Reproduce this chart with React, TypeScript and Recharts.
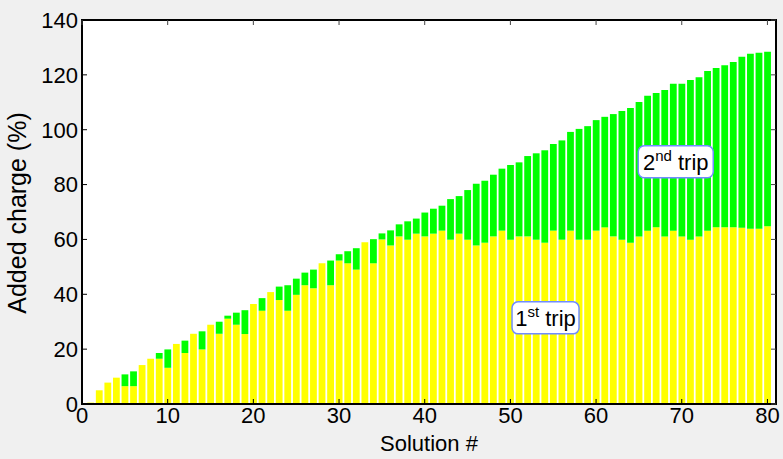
import { Bar, ComposedChart, ReferenceArea, ReferenceDot, XAxis, YAxis } from "recharts";

const solutions = Array.from({ length: 80 }, (_, i) => i + 1);

// added charge on the 1st trip (%)
const firstTrip = [
  0.5, 5.0, 7.8, 9.6, 6.5, 6.5, 14.2, 16.5, 16.5, 13.2,
  21.9, 18.6, 25.6, 19.9, 28.9, 25.6, 31.1, 28.9, 25.5, 36.5,
  34.0, 40.8, 37.9, 34.0, 39.8, 43.3, 42.2, 51.3, 43.3, 52.3,
  51.3, 49.0, 59.0, 51.3, 60.0, 57.8, 61.1, 59.9, 62.1, 61.1,
  62.1, 63.2, 59.9, 62.1, 59.9, 57.8, 58.8, 61.1, 63.2, 59.9,
  61.1, 61.1, 59.9, 58.8, 63.2, 59.9, 63.2, 59.9, 59.9, 63.2,
  64.4, 61.1, 59.9, 58.8, 61.1, 63.2, 64.4, 61.1, 63.2, 61.1,
  59.9, 61.1, 63.2, 64.4, 64.4, 64.4, 64.3, 63.9, 63.9, 64.8,
];

// added charge on the 2nd trip (%)
const secondTrip = [
  0, 0, 0, 0, 4.3, 5.4, 0, 0, 2.1, 6.7,
  0, 4.5, 0, 6.6, 0, 4.4, 1.1, 4.4, 8.7, 0,
  4.6, 0, 4.9, 9.3, 5.9, 4.6, 6.8, 0, 9.0, 2.3,
  4.4, 7.8, 0, 8.8, 2.2, 5.5, 4.4, 6.7, 5.5, 8.7,
  9.1, 9.1, 14.8, 13.7, 18.1, 22.5, 22.6, 22.5, 22.6, 27.2,
  27.0, 29.3, 31.5, 33.7, 31.6, 36.2, 36.0, 40.4, 41.4, 40.3,
  40.3, 44.6, 46.9, 49.1, 49.0, 49.2, 49.0, 53.4, 53.6, 55.7,
  58.2, 58.0, 58.2, 58.1, 59.1, 60.3, 62.3, 63.8, 64.2, 63.6,
];

const xTicks = [0, 10, 20, 30, 40, 50, 60, 70, 80];
const yTicks = [0, 20, 40, 60, 80, 100, 120, 140];

const data = solutions.map((n, i) => ({ n, first: firstTrip[i], second: secondTrip[i] }));

const FONT = "'Liberation Sans', Arial, sans-serif";
const tickText = { fontSize: 22, fill: "#000", fontFamily: FONT };

// plot box (px) for the frame drawn on top of the chart
const PLOT = { left: 82, top: 20, right: 776, bottom: 404 };
const X_MAX = 81;
const Y_MAX = 140;
const px = (v: number) => PLOT.left + (v / X_MAX) * (PLOT.right - PLOT.left);
const py = (v: number) => PLOT.bottom - (v / Y_MAX) * (PLOT.bottom - PLOT.top);

function TripTag(props: any) {
  const { cx, cy, ord, sup, w } = props;
  return (
    <g>
      <rect x={cx - w / 2} y={cy - 16} width={w} height={32} rx={6} fill="#fff" stroke="#6f8cff" strokeWidth={1.5} />
      <text x={cx} y={cy + 8} textAnchor="middle" fontFamily={FONT} fontSize={22} fill="#000">
        {ord}
        <tspan fontSize={15} dy={-9}>{sup}</tspan>
        <tspan dy={9}> trip</tspan>
      </text>
    </g>
  );
}

function Frame() {
  return (
    <svg
      width={783}
      height={459}
      style={{ position: "absolute", left: 0, top: 0, pointerEvents: "none" }}
    >
      <rect
        x={PLOT.left}
        y={PLOT.top}
        width={PLOT.right - PLOT.left}
        height={PLOT.bottom - PLOT.top}
        fill="none"
        stroke="#000"
        strokeWidth={2}
      />
      {xTicks.map((t) => (
        <line key={"tx" + t} x1={px(t)} x2={px(t)} y1={PLOT.top} y2={PLOT.top + 5} stroke="#444" />
      ))}
      {yTicks.map((t) => (
        <line key={"ty" + t} x1={PLOT.right} x2={PLOT.right - 5} y1={py(t)} y2={py(t)} stroke="#444" />
      ))}
    </svg>
  );
}

export default function App() {
  return (
    <div style={{ position: "absolute", left: 0, top: 0, width: 783, height: 459, background: "#f0f0f0" }}>
      <ComposedChart
        width={783}
        height={459}
        data={data}
        margin={{ top: PLOT.top, right: 783 - PLOT.right, left: 0, bottom: 0 }}
      >
        <ReferenceArea x1={0} x2={X_MAX} y1={0} y2={Y_MAX} fill="#ffffff" fillOpacity={1} />
        <XAxis
          dataKey="n"
          type="number"
          domain={[0, X_MAX]}
          ticks={xTicks}
          interval={0}
          height={459 - PLOT.bottom}
          tickSize={-5}
          tickMargin={8}
          axisLine={{ stroke: "#000", strokeWidth: 2 }}
          tickLine={{ stroke: "#000" }}
          tick={tickText}
          label={{
            content: () => (
              <text x={429} y={451} textAnchor="middle" fontFamily={FONT} fontSize={22} fill="#000">
                Solution #
              </text>
            ),
          }}
        />
        <YAxis
          domain={[0, Y_MAX]}
          ticks={yTicks}
          interval={0}
          width={PLOT.left}
          tickSize={-5}
          tickMargin={9}
          axisLine={{ stroke: "#000", strokeWidth: 2 }}
          tickLine={{ stroke: "#000" }}
          tick={tickText}
          label={{
            content: () => (
              <text
                x={26}
                y={213}
                transform="rotate(-90, 26, 213)"
                textAnchor="middle"
                fontFamily={FONT}
                fontSize={25}
                fill="#000"
              >
                Added charge (%)
              </text>
            ),
          }}
        />
        <Bar dataKey="first" stackId="s" fill="#ffff00" barSize={6.8} isAnimationActive={false} />
        <Bar dataKey="second" stackId="s" fill="#00ff00" barSize={6.8} isAnimationActive={false} />
        <ReferenceDot
          x={54.1}
          y={31.4}
          r={0}
          shape={(p: any) => <TripTag {...p} ord="1" sup="st" w={67} />}
        />
        <ReferenceDot
          x={69.3}
          y={88.3}
          r={0}
          shape={(p: any) => <TripTag {...p} ord="2" sup="nd" w={75} />}
        />
      </ComposedChart>
      <Frame />
    </div>
  );
}
